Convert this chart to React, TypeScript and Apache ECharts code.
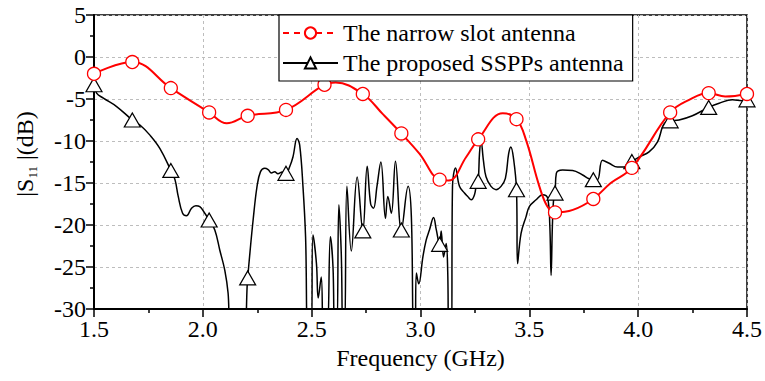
import React, { useEffect, useRef } from "react";
import * as echarts from "echarts";

// Frequencies (GHz) where the markers of both curves sit
const markerFreq = [1.5, 1.676, 1.853, 2.029, 2.206, 2.382, 2.559, 2.735, 2.912, 3.088, 3.265, 3.441, 3.618, 3.794, 3.971, 4.147, 4.324, 4.5];

// The narrow slot antenna (red)
const redMarkerS11 = [-2.0, -0.6, -3.7, -6.6, -7.0, -6.3, -3.3, -4.4, -9.1, -14.6, -9.8, -7.4, -18.5, -16.9, -13.2, -6.6, -4.3, -4.4];
const redTraceFreq = [2.11, 2.61, 2.827, 2.995, 3.13, 3.21, 3.378, 3.485, 3.546, 3.583, 3.7, 3.874, 4.234, 4.4];
const redTraceS11 = [-7.9, -3.05, -6.8, -11.5, -14.7, -11.9, -6.7, -9.9, -15.4, -17.8, -18.2, -15.0, -5.1, -4.7];

// The proposed SSPPs antenna (black)
const blackMarkerS11 = [-3.3, -7.5, -13.5, -19.4, -26.3, -13.85, -33, -20.7, -20.6, -22.3, -14.8, -15.8, -16.2, -14.6, -12.45, -7.6, -6.0, -5.1];
const blackTraceFreq = [
  1.512, 1.543, 1.604, 1.711, 1.757, 1.803, 1.872, 1.887, 1.907, 1.925, 1.948, 1.968, 1.986, 2.009,
  2.055, 2.078, 2.101, 2.116, 2.128, 2.183, 2.216, 2.231, 2.249, 2.265, 2.284, 2.3, 2.315, 2.33, 2.345, 2.365,
  2.399, 2.414, 2.433, 2.445, 2.46, 2.472, 2.483, 2.497, 2.506, 2.522, 2.53, 2.544, 2.553,
  2.571, 2.586, 2.598, 2.606, 2.615, 2.625, 2.636, 2.644, 2.651, 2.662, 2.682, 2.709,
  2.755, 2.771, 2.784, 2.8, 2.818, 2.839, 2.85, 2.866, 2.885,
  2.943, 2.958, 2.968, 2.975, 2.981, 2.992, 3.011, 3.026, 3.041, 3.06, 3.072,
  3.095, 3.106, 3.118, 3.125, 3.131, 3.142, 3.147, 3.161, 3.179, 3.202, 3.217, 3.233, 3.248, 3.258,
  3.271, 3.278, 3.289, 3.301, 3.324, 3.347, 3.37, 3.39, 3.405, 3.415, 3.427,
  3.446, 3.462, 3.485, 3.5, 3.531, 3.561, 3.584, 3.594, 3.6, 3.606, 3.612,
  3.624, 3.653, 3.699, 3.745, 3.775, 3.813, 3.836, 3.867, 3.905, 3.944,
  4.005, 4.05, 4.089, 4.112, 4.125, 4.188, 4.249, 4.372, 4.433, 4.478,
];
const blackTraceS11 = [
  -4.3, -4.9, -5.9, -8.1, -9.3, -10.9, -14.6, -16.6, -18.6, -18.9, -18.0, -17.7, -17.8, -18.6,
  -20.6, -23.0, -25.4, -28.1, -33, -33, -23.4, -19.4, -15.4, -13.65, -13.25, -13.4, -13.8, -13.65, -13.9, -13.7,
  -13.06, -11.9, -9.7, -10.5, -15.4, -21.4, -33, -33, -21.2, -24.6, -28.7, -26.2, -33,
  -33, -21.4, -25, -33, -33, -17.6, -23.4, -33, -33, -15.4, -23.1, -14.3,
  -13.0, -17.5, -18.0, -15.4, -12.5, -19.2, -16.6, -18.6, -12.4,
  -15.4, -19.0, -33, -33, -25.7, -27, -23.8, -21.8, -20.6, -19.1, -20.5,
  -20.7, -23.8, -22.2, -25.5, -33, -33, -15.4, -13.2, -15.4, -16.2, -16.6, -17.0, -16.4, -15.0,
  -11.5, -9.9, -12.3, -14.25, -15.4, -15.8, -15.4, -14.45, -11.5, -10.7, -12.0,
  -24.6, -21.0, -19.0, -17.8, -17.0, -16.4, -16.8, -20, -26.0, -20, -16.8,
  -13.85, -13.45, -13.5, -14.05, -14.5, -14.6, -12.3, -12.65, -13.1, -13.1,
  -11.9, -11.3, -10.1, -8.3, -7.8, -7.5, -7.0, -5.5, -5.1, -5.2,
];

const xTicks = { min: 1.5, max: 4.5, step: 0.5 };
const yTicks = { min: -30, max: 5, step: 5 };

const FONT = "'Liberation Serif', 'Times New Roman', Times, serif";

function buildData(mf: number[], mv: number[], tf: number[], tv: number[], sym: string) {
  const pts: any[] = [];
  mf.forEach((f, i) => pts.push({ value: [f, mv[i]], symbol: sym }));
  tf.forEach((f, i) => pts.push({ value: [f, tv[i]], symbol: "none" }));
  pts.sort((a, b) => a.value[0] - b.value[0]);
  return pts;
}

export default function App() {
  const ref = useRef<HTMLDivElement>(null);
  useEffect(() => {
    if (!ref.current) return;
    const chart = echarts.init(ref.current, undefined, { renderer: "svg" });
    const redData = buildData(markerFreq, redMarkerS11, redTraceFreq, redTraceS11, "circle");
    const blackData = buildData(markerFreq, blackMarkerS11, blackTraceFreq, blackTraceS11, "triangle");
    const axisLabelStyle = { fontFamily: FONT, fontSize: 24, color: "#000" };
    chart.setOption({
      animation: false,
      backgroundColor: "#fff",
      textStyle: { fontFamily: FONT },
      grid: {
        left: 94, right: 17, top: 15, bottom: 72,
        show: true, borderColor: "#000", borderWidth: 1.5, backgroundColor: "transparent",
      },
      xAxis: {
        type: "value",
        min: xTicks.min, max: xTicks.max, interval: xTicks.step,
        axisLine: { onZero: false, lineStyle: { color: "#000", width: 2 } },
        axisTick: { length: 8, lineStyle: { color: "#000", width: 1.5 } },
        minorTick: { show: true, splitNumber: 2, length: 4, lineStyle: { color: "#000", width: 1.5 } },
        splitLine: { show: true, lineStyle: { color: "#bdbdbd", type: [3, 3], width: 1 } },
        axisLabel: { ...axisLabelStyle, margin: 8, showMinLabel: true, showMaxLabel: true, formatter: (v: number) => v.toFixed(1) },
        name: "Frequency (GHz)",
        nameLocation: "middle",
        nameGap: 36,
        nameTextStyle: { fontFamily: FONT, fontSize: 24, color: "#000" },
      },
      yAxis: {
        type: "value",
        min: yTicks.min, max: yTicks.max, interval: yTicks.step,
        axisLine: { show: true, onZero: false, lineStyle: { color: "#000", width: 2 } },
        axisTick: { show: true, length: 8, lineStyle: { color: "#000", width: 1.5 } },
        minorTick: { show: true, splitNumber: 2, length: 4, lineStyle: { color: "#000", width: 1.5 } },
        splitLine: { show: true, lineStyle: { color: "#bdbdbd", type: [3, 3], width: 1 } },
        axisLabel: { ...axisLabelStyle, margin: 8, showMinLabel: true, showMaxLabel: true },
      },
      legend: {
        orient: "vertical",
        left: 279, top: 15,
        padding: [6, 9, 6, 3],
        itemGap: 6,
        itemWidth: 55,
        itemHeight: 14,
        borderColor: "#000",
        borderWidth: 1.2,
        backgroundColor: "#fff",
        selectedMode: false,
        textStyle: { fontFamily: FONT, fontSize: 24, color: "#000" },
        data: [
          { name: "The narrow slot antenna", lineStyle: { type: [6, 5] } },
          { name: "The proposed SSPPs antenna" },
        ],
      },
      graphic: [
        {
          type: "text",
          x: 25, y: 154,
          rotation: Math.PI / 2,
          style: {
            text: "{a||S}{b|11}{a| |(dB)}",
            align: "center",
            verticalAlign: "middle",
            rich: {
              a: { fontFamily: FONT, fontSize: 24, fill: "#000", color: "#000", lineHeight: 28 },
              b: { fontFamily: FONT, fontSize: 13, fill: "#000", color: "#000", lineHeight: 14, verticalAlign: "bottom", padding: [10, 0, 0, 0] },
            },
          },
        },
      ],
      series: [
        {
          name: "The proposed SSPPs antenna",
          type: "line",
          data: blackData,
          smooth: 0.4,
          symbol: "triangle",
          symbolSize: [16, 14],
          showSymbol: true,
          clip: true,
          lineStyle: { color: "#000", width: 1.5 },
          itemStyle: { color: "#fff", borderColor: "#000", borderWidth: 1.2 },
          z: 2,
        },
        {
          name: "The narrow slot antenna",
          type: "line",
          data: redData,
          smooth: 0.4,
          symbol: "circle",
          symbolSize: 13,
          showSymbol: true,
          clip: true,
          lineStyle: { color: "#ff0000", width: 2 },
          itemStyle: { color: "#fff", borderColor: "#ff0000", borderWidth: 1.3 },
          z: 3,
        },
      ],
    });
    return () => chart.dispose();
  }, []);
  return <div ref={ref} style={{ width: 765, height: 381, position: "absolute", left: 0, top: 0 }} />;
}
